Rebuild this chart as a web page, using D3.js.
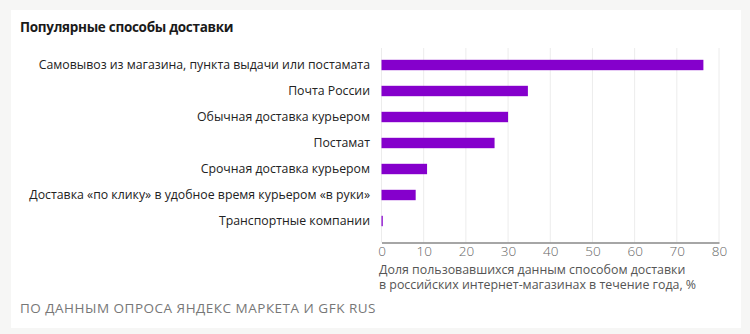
<!DOCTYPE html>
<html>
<head>
<meta charset="utf-8">
<script src="https://cdn.jsdelivr.net/npm/d3@7"></script>
<style>
  html, body { margin: 0; padding: 0; background: #f6f6f5; }
  svg { display: block; }
  text { font-family: "Open Sans", "Noto Sans", sans-serif; }
</style>
</head>
<body>
<svg id="chart" width="750" height="334"></svg>
<script>
const title = "Популярные способы доставки";
const categories = [
  "Самовывоз из магазина, пункта выдачи или постамата",
  "Почта России",
  "Обычная доставка курьером",
  "Постамат",
  "Срочная доставка курьером",
  "Доставка «по клику» в удобное время курьером «в руки»",
  "Транспортные компании"
];
const values = [76.3, 34.7, 30.0, 26.8, 10.8, 8.1, 0.3];
const tickValues = [0, 10, 20, 30, 40, 50, 60, 70, 80];
const axisTitle = [
  "Доля пользовавшихся данным способом доставки",
  "в российских интернет-магазинах в течение года, %"
];
const source = "ПО ДАННЫМ ОПРОСА ЯНДЕКС МАРКЕТА И GFK RUS";

const svg = d3.select("#chart");

// card
svg.append("rect")
  .attr("x", 11).attr("y", 10)
  .attr("width", 730).attr("height", 318)
  .attr("fill", "#ffffff");

svg.append("text")
  .attr("x", 20).attr("y", 32)
  .attr("font-size", 13.5).attr("font-weight", 700)
  .attr("fill", "#1a1a1a")
  .attr("letter-spacing", -0.3)
  .text(title);

const x = d3.scaleLinear().domain([0, 80]).range([381.5, 719]);
const y = d3.scaleBand().domain(categories).range([52, 234]).paddingInner(0.6).paddingOuter(0.3);

const plotTop = 48, axisY = 242.5;

// grid
svg.append("g").selectAll("line")
  .data(tickValues)
  .join("line")
  .attr("x1", d => x(d)).attr("x2", d => x(d))
  .attr("y1", plotTop).attr("y2", axisY)
  .attr("stroke", "#ececec").attr("stroke-width", 1);

// bars
svg.append("g").selectAll("rect")
  .data(categories)
  .join("rect")
  .attr("x", x(0))
  .attr("y", d => y(d))
  .attr("width", (d, i) => x(values[i]) - x(0))
  .attr("height", y.bandwidth())
  .attr("fill", "#8500cc");

// category labels
svg.append("g").selectAll("text")
  .data(categories)
  .join("text")
  .attr("x", 370)
  .attr("y", d => y(d) + y.bandwidth() / 2)
  .attr("dy", "0.35em")
  .attr("text-anchor", "end")
  .attr("font-size", 12.3)
  .attr("fill", "#222")
  .text(d => d);

// x axis
const xAxis = d3.axisBottom(x).tickValues(tickValues).tickSize(0).tickPadding(4);
const gx = svg.append("g").attr("transform", `translate(0,${axisY})`).call(xAxis);
gx.select(".domain").attr("stroke", "#888").attr("stroke-width", 1.5);
gx.selectAll("text")
  .attr("font-family", "'Open Sans', 'Noto Sans', sans-serif")
  .attr("font-size", 13.5).attr("font-weight", 300).attr("fill", "#666");

svg.append("g").selectAll("text")
  .data(axisTitle)
  .join("text")
  .attr("x", 379)
  .attr("y", (d, i) => 273.5 + i * 15.5)
  .attr("font-size", 12.4)
  .attr("fill", "#555")
  .text(d => d);

svg.append("text")
  .attr("x", 20).attr("y", 313)
  .attr("font-size", 13.5)
  .attr("letter-spacing", 0.5)
  .attr("fill", "#777")
  .text(source);
</script>
</body>
</html>
